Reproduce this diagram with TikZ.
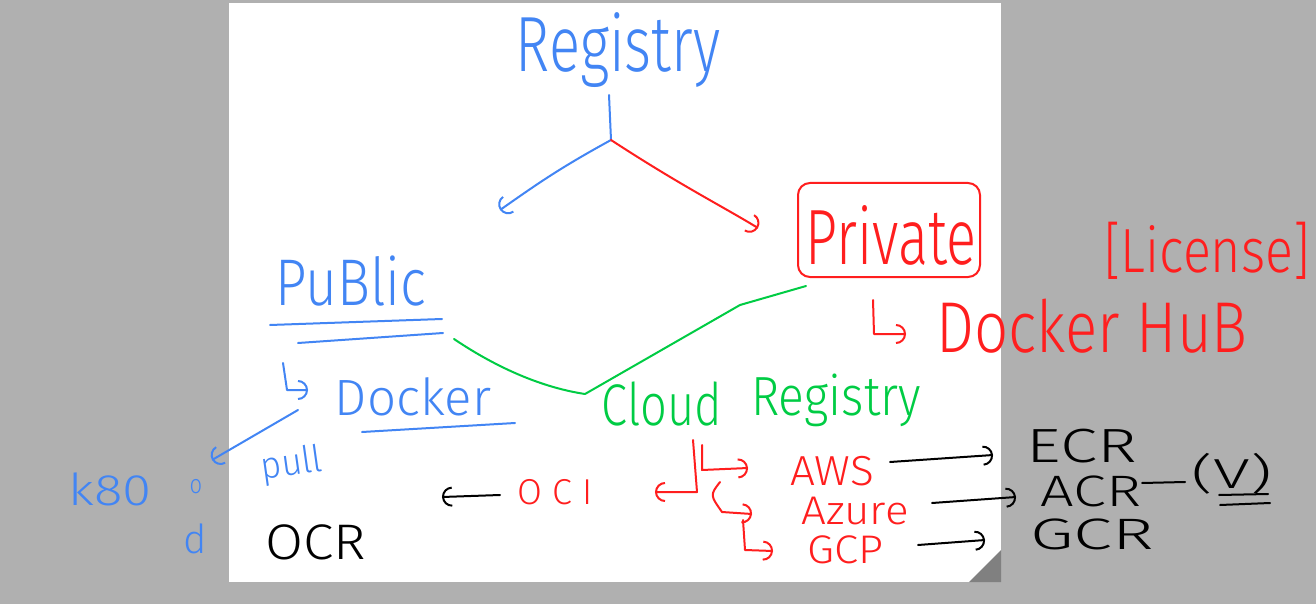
\documentclass[tikz,border=0pt]{standalone}
\usepackage{fontspec}
\setmainfont{Fira Sans}[UprightFont={* Light}]
\usetikzlibrary{arrows.meta}
\definecolor{hblue}{RGB}{66,133,244}
\definecolor{hred}{RGB}{255,30,30}
\definecolor{hgreen}{RGB}{0,204,68}
\definecolor{bggray}{RGB}{176,176,176}
\definecolor{foldgray}{RGB}{128,128,128}
% \hw{size}{xscale}{yscale}{text}
\newcommand\hw[4]{\fontsize{#1}{#1}\selectfont\scalebox{#2}[#3]{#4}}
\begin{document}
\begin{tikzpicture}[x=1pt,y=-1pt,
  txt/.style={inner sep=0pt, anchor=base},
  pen/.style={line width=2pt, line cap=round, line join=round},
  hook/.style={-{Arc Barb[length=10pt, arc=180]}},
  ]
% background and board
\fill[bggray] (0,0) rectangle (1316,604);
\useasboundingbox (0,0) rectangle (1316,604);
\fill[white] (229,3) rectangle (1001,582);
\fill[foldgray] (969,582) -- (1001,582) -- (1001,550) -- cycle;

% texts
\node[txt, hblue] (reg) at (618,72) {\hw{58}{1}{1.35}{Registry}};
\node[draw=hred, line width=2pt, rounded corners=12pt, inner sep=0pt,
      minimum width=182pt, minimum height=94pt] (priv) at (889,230) {};
\node[txt, hred] (privtxt) at (891,264) {\hw{56}{1}{1.4}{Private}};
\node[txt, hblue] (pub) at (351,305) {\hw{55}{1}{1.2}{PuBlic}};
\node[txt, hblue] (dock) at (413,415) {\hw{51}{1}{1}{Docker}};
\node[inner sep=0pt, hblue, rotate=8] (pull) at (292,465) {\hw{34}{1.05}{1.1}{pull}};
\node[txt, hblue] (k80) at (110,505) {\hw{44}{1.2}{1}{k80}};
\node[inner sep=0pt, hblue] (o) at (196,487) {\hw{22}{1}{1.2}{o}};
\node[txt, hblue] (d) at (195,553) {\hw{40}{1}{1}{d}};
\node[txt, black] (ocr) at (316,559) {\hw{50}{1.1}{1}{OCR}};
\node[txt, hgreen] (cloud) at (662,425) {\hw{47}{1}{1.25}{Cloud}};
\node[txt, hgreen] (creg) at (836,415) {\hw{48}{1}{1.15}{Registry}};
\node[txt, hred] (oci) at (555,504) {\hw{36}{1}{1}{O C I}};
\node[txt, hred] (aws) at (832,485) {\hw{42}{1.05}{1}{AWS}};
\node[txt, hred] (azure) at (855,524) {\hw{40}{1.1}{1}{Azure}};
\node[txt, hred] (gcp) at (845,563) {\hw{38}{1.15}{1.05}{GCP}};
\node[txt, black] (ecr) at (1082,462) {\hw{48}{1.4}{1}{ECR}};
\node[txt, black] (acr) at (1091,506) {\hw{44}{1.35}{1}{ACR}};
\node[txt, black] (gcr) at (1092,549) {\hw{44}{1.6}{1}{GCR}};
\node[txt, black] (v) at (1232,488) {\hw{42}{1.6}{1}{(V)}};
\node[txt, hred] (lic) at (1207,272) {\hw{52}{1}{1.2}{[License]}};
\node[txt, hred] (hub) at (1092,352) {\hw{60}{1}{1.2}{Docker HuB}};

% coordinates for free ends
\coordinate (stemtop) at (609,95);
\coordinate (fork) at (611,140);
\coordinate (pubtip) at (500,210);
\coordinate (privtip) at (758,228);
\coordinate (greenA) at (454,339);
\coordinate (greenV) at (585,394);

% Registry fork
\draw[pen,hblue] (stemtop) -- (fork);
\draw[pen,hblue,hook] (fork) .. controls (560,168) and (540,182) .. (pubtip);
\draw[pen,hred,hook] (fork) .. controls (680,185) and (720,205) .. (privtip);

% Public underlines
\draw[pen,hblue] (270,325) -- (442,319);
\draw[pen,hblue] (298,343) -- (443,333);
% Public -> Docker hook
\draw[pen,hblue,hook] (283,363) -- (287,390) -- (308,390);
\draw[pen,hblue] (362,432) -- (515,423);
% pull arrow
\draw[pen,hblue,hook] (298,410) -- (212,460);

% green link
\draw[pen,hgreen] (greenA) .. controls (500,370) and (545,388) .. (greenV)
   -- (740,305) -- ([shift={(9pt,-8pt)}]priv.south west);

% Private -> Docker Hub hook
\draw[pen,hred,hook] (873,300) -- (874,334) -- (906,334);

% OCI arrow
\draw[pen,black,hook] (500,495) -- (442,497);
% cloud provider bracket
\draw[pen,hred,hook] (693,440) -- (697,492) -- (655,492);
\draw[pen,hred,hook] (702,445) -- (702,470) -- (748,468);
\draw[pen,hred,hook] (720,482) .. controls (710,495) .. (722,512) -- (752,514);
\draw[pen,hred,hook] (743,520) -- (745,550) -- (773,551);

% to registries
\draw[pen,black,hook] (890,462) -- (993,455);
\draw[pen,black,hook] (932,503) -- (1016,497);
\draw[pen,black,hook] (918,545) -- (985,540);
\draw[pen,black] (1142,483) -- (1185,482);
\draw[pen,black] (1219,495) -- (1268,494);
\draw[pen,black] (1220,505) -- (1270,503);
\end{tikzpicture}
\end{document}
